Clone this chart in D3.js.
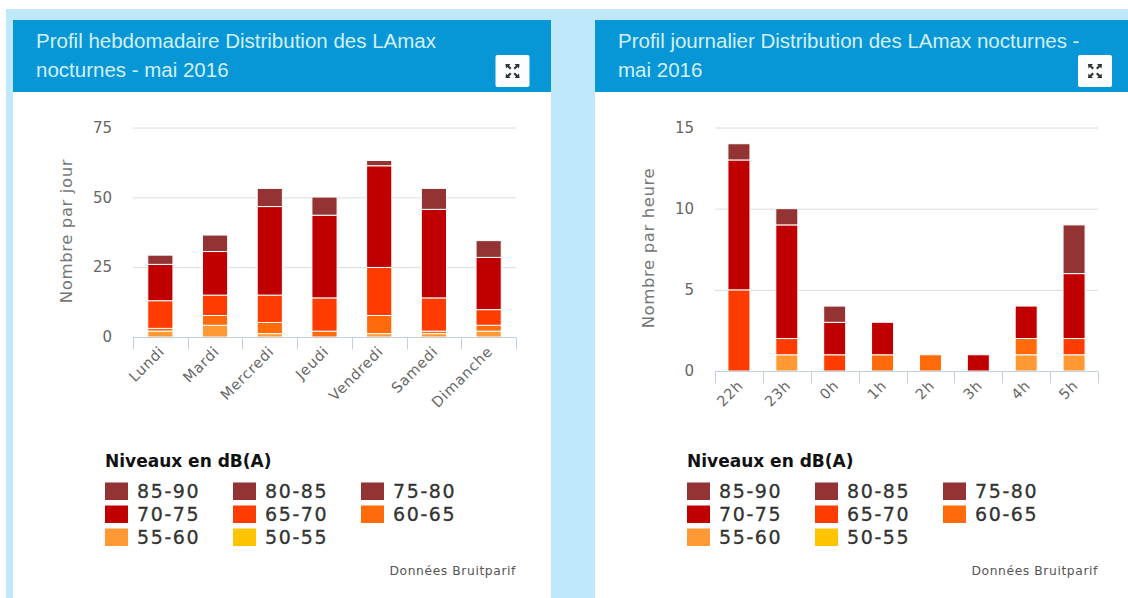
<!DOCTYPE html>
<html><head><meta charset="utf-8">
<script src="https://cdn.jsdelivr.net/npm/d3@7/dist/d3.min.js"></script>
<style>
html,body{margin:0;padding:0;background:#fff;overflow:hidden}
svg{display:block}
</style></head><body><svg id="c" width="1128" height="598"></svg>
<script>
const seriesKeys = ["55-60","60-65","65-70","70-75","75-80"];
const legendLabels = ["85-90","80-85","75-80","70-75","65-70","60-65","55-60","50-55"];
const legendColors = ["#933333","#933333","#933333","#c00000","#ff3c00","#ff6a0a","#ff9933","#ffc400"];
const legendTitle = "Niveaux en dB(A)";
const credit = "Données Bruitparif";

const days = ["Lundi","Mardi","Mercredi","Jeudi","Vendredi","Samedi","Dimanche"];
const week55 = [2.1,4.2,1.2,0,1.2,1.2,2.1];
const week60 = [1,3.5,4,2.1,6.5,0.9,2.1];
const week65 = [9.9,7.3,9.8,11.9,17.2,11.9,5.6];
const week70 = [13,15.6,31.7,29.6,36.4,31.7,18.7];
const week75 = [3.3,5.9,6.5,6.5,1.9,7.5,6];
const weekTicks = [0,25,50,75];

const hours = ["22h","23h","0h","1h","2h","3h","4h","5h"];
const hour55 = [0,1,0,0,0,0,1,1];
const hour60 = [0,0,0,1,1,0,1,0];
const hour65 = [5,1,1,0,0,0,0,1];
const hour70 = [8,7,2,2,0,1,2,4];
const hour75 = [1,1,1,0,0,0,0,3];
const hourTicks = [0,5,10,15];

const svg = d3.select("#c");
svg.append("rect").attr("x",6).attr("y",9).attr("width",1122).attr("height",589).attr("fill","#bfe8fb");

function panel(o){
  const g = svg.append("g");
  g.append("rect").attr("x",o.x0).attr("y",92).attr("width",o.x1-o.x0).attr("height",506).attr("fill","#fff");
  g.append("rect").attr("x",o.x0).attr("y",20).attr("width",o.x1-o.x0).attr("height",72).attr("fill","#0897d6");
  o.title.forEach((t,i)=>g.append("text").text(t).attr("x",o.x0+23).attr("y",48+i*29)
    .attr("font-family","Liberation Sans").attr("font-size",20.5).attr("fill","#d3f0fb"));
  // expand button
  const b=g.append("g").attr("transform",`translate(${o.btn},55)`);
  b.append("rect").attr("width",34).attr("height",32).attr("rx",2).attr("fill","#fbfdfe");
  [[10,9,1,1],[24,9,-1,1],[10,23,1,-1],[24,23,-1,-1]].forEach(([x,y,sx,sy])=>{
    b.append("path").attr("d",`M${x} ${y}h${5*sx}l${-1.5*sx} ${1.5*sy}l${2.5*sx} ${2.5*sy}l${-1.5*sx} ${1.5*sy}l${-2.5*sx} ${-2.5*sy}l${-1.5*sx} ${1.5*sy}z`).attr("fill","#333");
  });

  const x=d3.scaleBand().domain(o.cats).range([o.left,o.right]).paddingInner(o.pad).paddingOuter(o.pad/2);
  const y=d3.scaleLinear().domain([0,o.ticks[o.ticks.length-1]]).range([o.bottom,127.5]);

  // grid
  g.append("g").selectAll("line").data(o.ticks.slice(1)).join("line")
    .attr("x1",o.left).attr("x2",o.right).attr("y1",d=>y(d)+.5).attr("y2",d=>y(d)+.5)
    .attr("stroke","#d9dce0");

  // y axis labels
  const ya=g.append("g").attr("transform",`translate(${o.left-6},0)`)
    .call(d3.axisLeft(y).tickValues(o.ticks).tickSize(0).tickPadding(15));
  ya.select(".domain").remove();
  ya.selectAll("text").attr("font-family","DejaVu Sans").attr("font-size",15).attr("fill","#666");

  g.append("text").text(o.yTitle)
    .attr("transform",`translate(${o.left-61},${o.yTitleMid}) rotate(-90)`)
    .attr("text-anchor","middle").attr("font-family","DejaVu Sans").attr("font-size",16.5)
    .attr("letter-spacing",.6).attr("fill","#777");

  // bars
  const rows=o.cats.map((c,i)=>{const r={cat:c};seriesKeys.forEach((k,j)=>r[k]=o.values[j][i]);return r;});
  const stack=d3.stack().keys(seriesKeys)(rows);
  const color=d3.scaleOrdinal().domain(legendLabels).range(legendColors);
  g.append("g").selectAll("g").data(stack).join("g").attr("fill",d=>color(d.key))
    .selectAll("rect").data(d=>d.filter(p=>p[1]>p[0])).join("rect")
    .attr("x",d=>x(d.data.cat)).attr("width",x.bandwidth())
    .attr("y",d=>y(d[1])).attr("height",d=>y(d[0])-y(d[1]))
    .attr("stroke","#fff").attr("stroke-width",1);

  // x axis
  const step=(o.right-o.left)/o.cats.length;
  const xa=g.append("g").attr("transform",`translate(0,${o.bottom+.5})`);
  xa.append("line").attr("x1",o.left).attr("x2",o.right).attr("stroke","#c0d0e0");
  xa.selectAll("line.t").data(d3.range(o.cats.length+1)).join("line").attr("class","t")
    .attr("x1",i=>Math.round(o.left+i*step)+.5).attr("x2",i=>Math.round(o.left+i*step)+.5)
    .attr("y1",0).attr("y2",12).attr("stroke","#c0d0e0");
  const axis=g.append("g").attr("transform",`translate(0,${o.bottom+.5})`)
    .call(d3.axisBottom(x).tickSize(0).tickPadding(0));
  axis.select(".domain").remove();
  axis.selectAll(".tick text")
    .attr("text-anchor","end").attr("dy",0)
    .attr("transform",`translate(5,${o.labelDy}) rotate(-45)`)
    .attr("font-family","DejaVu Sans").attr("font-size",14.5).attr("letter-spacing",.7).attr("fill","#666");

  // legend
  const lx=o.x0+92;
  g.append("text").text(legendTitle).attr("x",lx).attr("y",467)
    .attr("font-family","DejaVu Sans").attr("font-weight","bold").attr("font-size",17).attr("fill","#111");
  const it=g.append("g").selectAll("g").data(legendLabels).join("g")
    .attr("transform",(d,i)=>`translate(${lx+(i%3)*128},${482.5+Math.floor(i/3)*23})`);
  it.append("rect").attr("width",23).attr("height",17.5).attr("fill",(d,i)=>legendColors[i]);
  it.append("text").text(d=>d).attr("x",32).attr("y",15.5)
    .attr("font-family","DejaVu Sans").attr("font-size",19).attr("letter-spacing",1.6).attr("stroke","#333").attr("stroke-width",.3).attr("fill","#333");

  g.append("text").text(credit).attr("x",o.right).attr("y",575).attr("text-anchor","end")
    .attr("font-family","DejaVu Sans").attr("font-size",12.3).attr("letter-spacing",.6).attr("fill","#555");
}

panel({x0:13,x1:551,btn:495.5,left:133,right:516,bottom:337,pad:.54,cats:days,ticks:weekTicks,yTitleMid:231,
  values:[week55,week60,week65,week70,week75],yTitle:"Nombre par jour",labelDy:15,
  title:["Profil hebdomadaire Distribution des LAmax","nocturnes - mai 2016"]});
panel({x0:595,x1:1128,btn:1078,left:715,right:1098,bottom:371,pad:.54,cats:hours,ticks:hourTicks,yTitleMid:248,
  values:[hour55,hour60,hour65,hour70,hour75],yTitle:"Nombre par heure",labelDy:15,
  title:["Profil journalier Distribution des LAmax nocturnes -","mai 2016"]});
</script></body></html>
